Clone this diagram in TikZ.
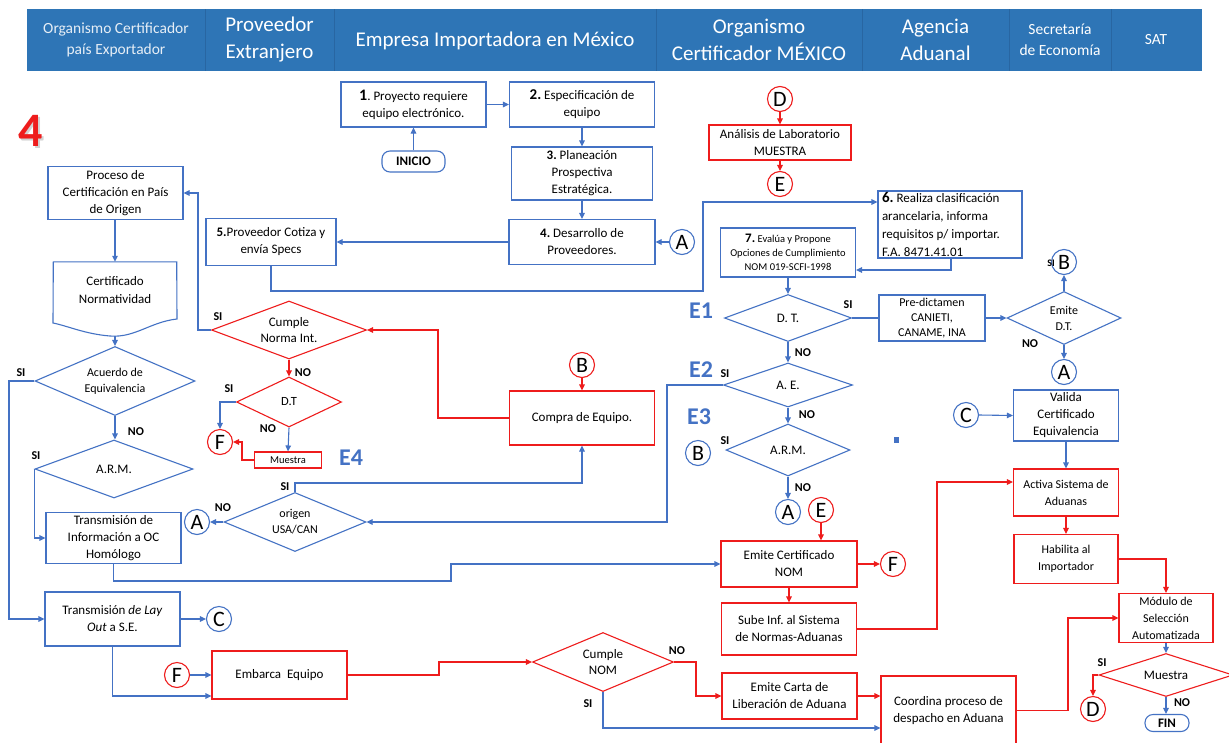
\documentclass[tikz,border=0pt]{standalone}
\usepackage{fontspec}
\setmainfont{Carlito}
\usetikzlibrary{shapes.geometric,arrows.meta,calc}
\definecolor{hdr}{HTML}{2E75B6}
\definecolor{hdrline}{HTML}{2866A2}
\definecolor{bl}{HTML}{4472C4}
\definecolor{rd}{HTML}{EE1C1C}
\newcommand\fsz[2]{\fontsize{#1}{#2}\selectfont}
\frenchspacing
\begin{document}
\begin{tikzpicture}[x=1pt,y=-1pt,
  every node/.style={inner sep=1pt},
  wh/.style 2 args={minimum width=#1pt,minimum height=#2pt},
  bbox/.style={draw=bl,line width=1.1pt,fill=white,align=center,font=\fsz{13}{17}},
  rbox/.style={draw=rd,line width=1.1pt,fill=white,align=center,font=\fsz{13}{17}},
  dia/.style n args={3}{diamond,inner sep=0pt,minimum width=#1pt,minimum height=#2pt,aspect=#3,align=center,line width=1.1pt,fill=white,font=\fsz{12.5}{16}},
  bcirc/.style={circle,draw=bl,line width=1.1pt,fill=white,minimum size=25pt,inner sep=0pt,font=\fsz{22}{22}},
  rcirc/.style={circle,draw=rd,line width=1.1pt,fill=white,minimum size=25pt,inner sep=0pt,font=\fsz{22}{22}},
  bline/.style={draw=bl,line width=1.1pt},
  rline/.style={draw=rd,line width=1.1pt},
  arr/.style={-{Triangle[length=6pt,width=5.5pt]}},
  lab/.style={font=\bfseries\fsz{12}{12},inner sep=0pt},
  elab/.style={text=bl,font=\bfseries\fsz{24}{24},inner sep=0pt},
  hd/.style={text=white,align=center,inner sep=0pt},
  pill/.style={rounded corners=8pt,line width=1.1pt,fill=white,font=\bfseries\fsz{13}{13},inner sep=0pt},
]
\useasboundingbox (0,0) rectangle (1229,742);
\fill[white] (0,0) rectangle (1229,742);

% ---------- header ----------
\fill[hdr] (27,9) rectangle (1202,71);
\foreach \x in {205,334,656,862,1009,1111} \draw[hdrline,line width=1pt] (\x,9) -- (\x,71);
\node[hd,text=white!88!hdr,font=\fsz{15.5}{21}] (h1) at (116,40) {Organismo Certificador\\país Exportador};
\node[hd,font=\fsz{21}{27}] (h2) at (269.5,40) {Proveedor\\Extranjero};
\node[hd,font=\fsz{21}{27}] (h3) at (495,41) {Empresa Importadora en México};
\node[hd,font=\fsz{21}{27}] (h4) at (759,40) {Organismo\\Certificador MÉXICO};
\node[hd,font=\fsz{21}{27}] (h5) at (935.5,40) {Agencia\\Aduanal};
\node[hd,font=\fsz{15.5}{21}] (h6) at (1060,40) {Secretaría\\de Economía};
\node[hd,font=\fsz{15.5}{21}] (h7) at (1156,40) {SAT};

% ---------- big 4 ----------
\node[text=black!35,opacity=0.5,font=\bfseries\fsz{48}{48},inner sep=0pt] (fourshadow) at (33,133) {4};
\node[text=rd,font=\bfseries\fsz{48}{48},inner sep=0pt] (four) at (31,131) {4};

% ---------- Empresa column ----------
\node[pill,draw=bl,wh={63}{21}] (ini) at (413.5,161.5) {INICIO};
\node[bbox,wh={145}{45}] (b1) at (413.5,104.5) {{\bfseries\fsz{16}{17}1}. Proyecto requiere\\equipo electrónico.};
\node[bbox,wh={145}{45}] (b2) at (582,104.5) {{\bfseries\fsz{15}{17}2.} Especificación de\\equipo};
\node[bbox,wh={141}{53}] (b3) at (582,173.5) {{\bfseries 3.} Planeación\\Prospectiva\\Estratégica.};
\node[bbox,wh={146}{45}] (b4) at (582,242) {{\bfseries 4.} Desarrollo de\\Proveedores.};
\node[bcirc] (A1) at (682,242) {A};
\node[bbox,wh={130}{47}] (b5) at (271,242) {{\bfseries 5.}Proveedor Cotiza y\\envía Specs};
\node[rbox,wh={145}{54}] (compra) at (582,418) {Compra de Equipo.};
\node[rcirc] (B1) at (582,365) {B};

% ---------- Organismo MX ----------
\node[rcirc] (D1) at (780,99) {D};
\node[rbox,wh={142}{35}] (lab) at (780,142.5) {Análisis de Laboratorio\\MUESTRA};
\node[rcirc] (E1c) at (780,184) {E};
\node[bbox,wh={144}{67},align=flush left,text width=136pt,font=\fsz{13}{18}] (b6) at (950,224.5) {{\bfseries\fsz{15}{18}6.} Realiza clasificación\\arancelaria, informa\\requisitos p/ importar.\\F.A. 8471.41.01};
\node[bbox,wh={135}{49},font=\fsz{10.5}{14}] (b7) at (788,252.5) {{\bfseries\fsz{13}{14}7.} Evalúa y Propone\\Opciones de Cumplimiento\\NOM 019-SCFI-1998};
\node[dia={127}{47}{2.7},draw=bl,font=\fsz{13}{16}] (dt1) at (788,318) {D. T.};
\node[dia={129}{44}{2.93},draw=bl,font=\fsz{13}{16}] (ae) at (788,385) {A. E.};
\node[dia={124}{52}{2.38},draw=bl,font=\fsz{13}{16}] (arm3) at (788,450) {A.R.M.};
\node[bcirc] (A4) at (788,512) {A};
\node[bcirc] (B2) at (698,453) {B};
\node[bbox,wh={106}{46},font=\fsz{12}{15}] (pre) at (932,318) {Pre-dictamen\\CANIETI,\\CANAME, INA};
\node[dia={114}{53}{2.15},draw=bl,font=\fsz{12}{16}] (emitedt) at (1064,318) {Emite\\D.T.};
\node[bcirc] (B3) at (1064,262) {B};
\node[bcirc] (A3) at (1064,372) {A};
\node[rcirc] (E2c) at (821,510) {E};
\node[rbox,wh={136}{46}] (emcert) at (789,564) {Emite Certificado\\NOM};
\node[rcirc] (F3) at (893,564) {F};
\node[rbox,wh={135}{52}] (sube) at (789,629) {Sube Inf. al Sistema\\de Normas-Aduanas};
\node[rbox,wh={135}{46}] (carta) at (789.5,696) {Emite Carta de\\Liberación de Aduana};
\node[rbox,wh={135}{69}] (coord) at (948.5,710.5) {Coordina proceso de\\despacho en Aduana};
\fill[bl] (893.5,437) rectangle (898.5,443);

% ---------- right columns ----------
\node[bcirc] (C2) at (966,415) {C};
\node[bbox,wh={105}{51}] (valida) at (1066,415.5) {Valida\\Certificado\\Equivalencia};
\node[rbox,wh={105}{47},font=\fsz{12}{17}] (activa) at (1066,492.5) {Activa Sistema de\\Aduanas};
\node[rbox,wh={104}{49},font=\fsz{12}{17}] (habilita) at (1066,559) {Habilita al\\Importador};
\node[rbox,wh={94}{49},font=\fsz{12}{17}] (modulo) at (1166,618) {Módulo de\\Selección\\Automatizada};
\node[dia={134}{43}{3.12},draw=rd,font=\fsz{13}{16}] (muestra2) at (1166,675) {Muestra};
\node[rcirc] (D2) at (1093,709) {D};
\node[pill,draw=bl,wh={44}{17}] (fin) at (1167,723) {FIN};

% ---------- Proveedor / Organismo exportador ----------
\node[bbox,wh={135}{53}] (proc) at (115.5,193) {Proceso de\\Certificación en País\\de Origen};
\node[inner sep=0pt,wh={123}{56},align=center,font=\fsz{13}{18}] (cert) at (115,290) {Certificado\\Normatividad};
\draw[bl,line width=1.1pt] (cert.north west) -- (cert.north east) -- (177,319)
   .. controls (150,322) and (135,338) .. (110,336)
   .. controls (85,334) and (68,326) .. (53,323) -- cycle;
\coordinate (certb) at (115,336);
\node[dia={160}{69}{2.32},draw=bl,font=\fsz{12}{16}] (acuerdo) at (115,381) {Acuerdo de\\Equivalencia};
\node[dia={158}{58}{2.72},draw=bl,font=\fsz{13}{16}] (arm1) at (114,469) {A.R.M.};
\node[bbox,wh={135}{51}] (trans) at (113.5,538) {Transmisión de\\Información a OC\\Homólogo};
\node[bbox,wh={135}{54}] (lay) at (112.5,619) {Transmisión \textit{de Lay}\\\textit{Out} a S.E.};
\node[bcirc] (C1) at (219,619) {C};
\node[rcirc] (F2) at (177,675) {F};
\node[rbox,wh={135}{48}] (emb) at (279.5,675) {Embarca\ \ Equipo};
\node[dia={155}{58}{2.67},draw=rd,font=\fsz{13}{16}] (cumpleint) at (289,330) {Cumple\\Norma Int.};
\node[dia={105}{50}{2.1},draw=rd,font=\fsz{12.5}{16}] (dt4) at (289,402) {D.T};
\node[rbox,wh={67}{16},font=\fsz{10.5}{12},inner sep=0pt] (muestra) at (288,460) {Muestra};
\node[rcirc] (F1) at (220,442) {F};
\node[dia={142}{59}{2.41},draw=bl,font=\fsz{12}{16}] (origen) at (295,522) {origen\\USA/CAN};
\node[bcirc] (A2) at (197,522) {A};
\node[dia={141}{59}{2.39},draw=rd,font=\fsz{13}{16}] (cumplenom) at (603,662) {Cumple\\NOM};

% ---------- blue connectors ----------
\draw[bline,arr] (ini.north) -- (b1.south);
\draw[bline,arr] (b1.east) -- (b2.west);
\draw[bline,arr] (b2.south) -- (b3.north);
\draw[bline,arr] (b3.south) -- (b4.north);
\draw[bline,arr] (A1.west) -- (b4.east);
\draw[bline,arr] (b4.west) -- (b5.east);
\coordinate (k1) at (703,291); \coordinate (k2) at (703,202);
\draw[bline,arr] (b5.south) |- (k1) -- (k2) -- (k2 -| b6.west);
\coordinate (k3) at (951,270);
\draw[bline,arr] (b6.south -| k3) -- (k3) -- (k3 -| b7.east);
\draw[bline,arr] (b7.south) -- (dt1.north);
\draw[bline] (dt1.east) -- (pre.west);
\draw[bline,arr] (pre.east) -- (emitedt.west);
\draw[bline,arr] (emitedt.north) -- (B3.south);
\draw[bline,arr] (emitedt.south) -- (A3.north);
\draw[bline,arr] (dt1.south) -- (ae.north);
\draw[bline,arr] (ae.south) -- (arm3.north);
\draw[bline,arr] (arm3.south) -- (A4.north);
\coordinate (k4) at (667,385); \coordinate (k5) at (667,522);
\draw[bline,arr] (ae.west) -- (k4) -- (k5) -- (origen.east);
\draw[bline,arr] (origen.west) -- (A2.east);
\coordinate (k6) at (295,483); \coordinate (k7) at (582,483);
\draw[bline,arr] (origen.north) -- (k6) -- (k7) -- (compra.south);
\draw[bline,arr] (proc.south -| cert.north) -- (cert.north);
\draw[bline,arr] (certb) -- (acuerdo.north);
\coordinate (k8) at (9,381); \coordinate (k9) at (9,619);
\draw[bline,arr] (acuerdo.west) -- (k8) -- (k9) -- (lay.west);
\draw[bline,arr] (arm1.west) |- (trans.west);
\draw[bline,arr] (acuerdo.south) -- (arm1.north -| acuerdo.south);
\coordinate (k10) at (198,330); \coordinate (k11) at (198,193);
\draw[bline,arr] (cumpleint.west) -- (k10) -- (k11) -- (proc.east);
\draw[bline,arr] (dt4.west) -| (F1.north);
\draw[bline,arr] (dt4.south) -- (muestra.north);
\coordinate (k13) at (451,581); \coordinate (k14) at (451,564);
\draw[bline,arr] (trans.south) |- (k13) -- (k14) -- (emcert.west);
\draw[bline,arr] (lay.east) -- (C1.west);
\coordinate (k15) at (113,696);
\draw[bline,arr] (lay.south) |- (k15 -| emb.west);
\draw[bline,arr] (F2.east) -- (emb.west);
\coordinate (k16) at (604,728);
\draw[bline,arr] (cumplenom.south) |- (k16 -| coord.west);
\draw[bline,arr] (modulo.south) -- (muestra2.north);
\draw[bline,arr] (muestra2.south) -- (muestra2.south |- fin.north);
\draw[bline,arr] (C2.east) -- (valida.west);
\draw[bline,arr] (valida.south) -- (activa.north);

% ---------- red connectors ----------
\draw[rline,arr] (D1.south) -- (lab.north);
\draw[rline,arr] (lab.south) -- (E1c.north);
\coordinate (r1) at (438,418); \coordinate (r2) at (438,330);
\draw[rline,arr] (compra.west) -- (r1) -- (r2) -- (cumpleint.east);
\draw[rline,arr] (cumpleint.south) -- (dt4.north);
\draw[rline,arr] (muestra.west) -- ++(-12,0) |- (F1.east);
\draw[rline,arr] (B1.south) -- (compra.north);
\coordinate (r3) at (439,675); \coordinate (r4) at (439,662);
\draw[rline,arr] (emb.east) -- (r3) -- (r4) -- (cumplenom.west);
\coordinate (r5) at (696,662);
\draw[rline,arr] (cumplenom.east) -- (r5) |- (carta.west);
\draw[rline,arr] (carta.east) -- (carta.east -| coord.west);
\coordinate (r7) at (1068,710.5); \coordinate (r8) at (1068,618);
\draw[rline,arr] (coord.east) -- (r7) -- (r8) -- (modulo.west);
\draw[rline,arr] (habilita.east) -| (modulo.north);
\draw[rline,arr] (activa.south) -- (habilita.north);
\draw[rline,arr] (E2c.south) -- (E2c.south |- emcert.north);
\draw[rline,arr] (emcert.south) -- (sube.north);
\draw[rline,arr] (emcert.east) -- (F3.west);
\coordinate (r9) at (937,629); \coordinate (r10) at (937,482);
\draw[rline,arr] (sube.east) -- (r9) -- (r10) -- (r10 -| activa.west);
\draw[rline,arr] (muestra2.west) -| (D2.north);

% ---------- labels ----------
\node[lab] (s1) at (218,317) {SI};
\node[lab] (n1) at (303,373) {NO};
\node[lab] (s2) at (229,389) {SI};
\node[lab] (n2) at (268,429) {NO};
\node[lab] (s3) at (21,373) {SI};
\node[lab] (n3) at (136,432) {NO};
\node[lab] (s4) at (36,456) {SI};
\node[lab] (s5) at (285,487) {SI};
\node[lab] (n5) at (223,508) {NO};
\node[elab] (e4) at (351,458) {E4};
\node[elab] (e1) at (701,311) {E1};
\node[lab] (s6) at (848,305) {SI};
\node[lab] (n6) at (803,353) {NO};
\node[elab] (e2) at (701,370) {E2};
\node[lab] (s7) at (725,374) {SI};
\node[lab] (n7) at (807,415) {NO};
\node[elab] (e3) at (699,417) {E3};
\node[lab] (s8) at (725,441) {SI};
\node[lab] (n8) at (803,488) {NO};
\node[lab] (n9) at (1030,344) {NO};
\node[lab,font=\bfseries\fsz{10}{10}] (s9) at (1051,263) {SI};
\node[lab] (n10) at (677,651) {NO};
\node[lab] (s10) at (588,704) {SI};
\node[lab] (s11) at (1102,663) {SI};
\node[lab] (n11) at (1182,703) {NO};
\end{tikzpicture}
\end{document}
